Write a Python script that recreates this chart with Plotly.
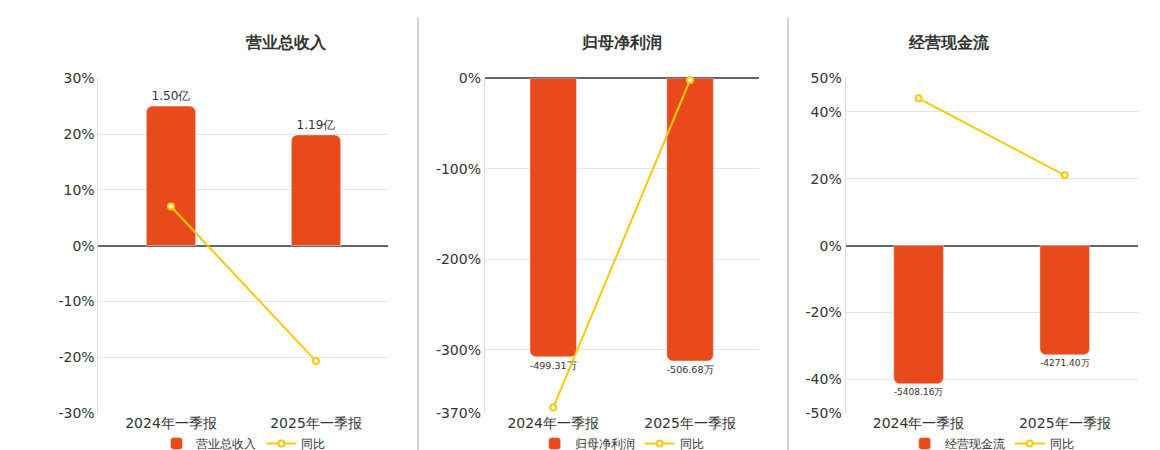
import plotly.graph_objects as go

periods = ['2024年一季报', '2025年一季报']
names = ['营业总收入', '归母净利润', '经营现金流']
bar_values = [[1.50, 1.19], [-499.31, -506.68], [-5408.16, -4271.40]]
bar_labels = [['1.50亿', '1.19亿'], ['-499.31万', '-506.68万'], ['-5408.16万', '-4271.40万']]
yoy = [[7.0, -20.7], [-364.0, -2.0], [44.0, 21.0]]
y_ranges = [[-30, 30], [-370, 0], [-50, 50]]
y_ticks = [[-30, -20, -10, 0, 10, 20, 30], [-370, -300, -200, -100, 0], [-50, -40, -20, 0, 20, 40, 50]]
bar_ranges = [[-1.8, 1.8], [-600, 0], [-6550, 6550]]

bar_color = '#E84A1B'
line_color = '#F2CC0C'
domains = [[0.078, 0.328], [0.411, 0.647], [0.722, 0.974]]
ydom = [0.1, 0.844]

fig = go.Figure()
lay = {}
for i in range(3):
    n = i * 2 + 1
    xa = 'x' if i == 0 else f'x{i+1}'
    yb = 'y' if n == 1 else f'y{n}'   # bars, base axis (hidden)
    ya = f'y{n+1}'                     # line, overlay axis (visible)
    leg = 'legend' if i == 0 else f'legend{i+1}'
    fig.add_trace(go.Bar(x=periods, y=bar_values[i], text=bar_labels[i], textposition='outside',
                         textfont=dict(size=12, color='#333'), cliponaxis=False,
                         marker=dict(color=bar_color, cornerradius=6), width=0.34,
                         name=names[i], xaxis=xa, yaxis=yb, legend=leg))
    fig.add_trace(go.Scatter(x=periods, y=yoy[i], mode='lines+markers', name='同比',
                             line=dict(color=line_color, width=2),
                             marker=dict(size=6, color='white', line=dict(color=line_color, width=2)),
                             xaxis=xa, yaxis=ya, legend=leg, cliponaxis=False))
    cx = (domains[i][0] + domains[i][1]) / 2
    lay['xaxis' + xa[1:]] = dict(domain=domains[i], anchor=yb, showgrid=False,
                                 tickfont=dict(size=14, color='#333'), showline=False)
    lay['yaxis' + yb[1:]] = dict(domain=ydom, anchor=xa, range=bar_ranges[i],
                                 showticklabels=False, showgrid=False, zeroline=False)
    lay['yaxis' + ya[1:]] = dict(overlaying=yb, anchor=xa, side='left', range=y_ranges[i],
                                 tickvals=y_ticks[i], ticktext=[f'{v}%' for v in y_ticks[i]],
                                 tickfont=dict(size=14, color='#333'),
                                 gridcolor='#E3E6EE', zeroline=True, zerolinecolor='#666',
                                 zerolinewidth=1.5, showline=True, linecolor='#DDD')
    lay[leg] = dict(orientation='h', x=cx, xanchor='center', y=0.0, yanchor='bottom',
                    font=dict(size=12, color='#333'), bgcolor='rgba(0,0,0,0)')
    fig.add_annotation(text=f'<b>{names[i]}</b>', x=cx, y=0.95, xref='paper', yref='paper',
                       showarrow=False, font=dict(size=16, color='#333'))

for x in [410 / 1160, 780 / 1160]:
    fig.add_shape(type='line', x0=x, x1=x, y0=0.01, y1=0.98, xref='paper', yref='paper',
                  line=dict(color='#AAA', width=1))

fig.update_layout(**lay)
fig.update_layout(width=1160, height=450, margin=dict(l=0, r=0, t=0, b=0, autoexpand=False),
                  plot_bgcolor='white', paper_bgcolor='white', barmode='group',
                  font=dict(family='DejaVu Sans'))
fig.write_html('out.html')
